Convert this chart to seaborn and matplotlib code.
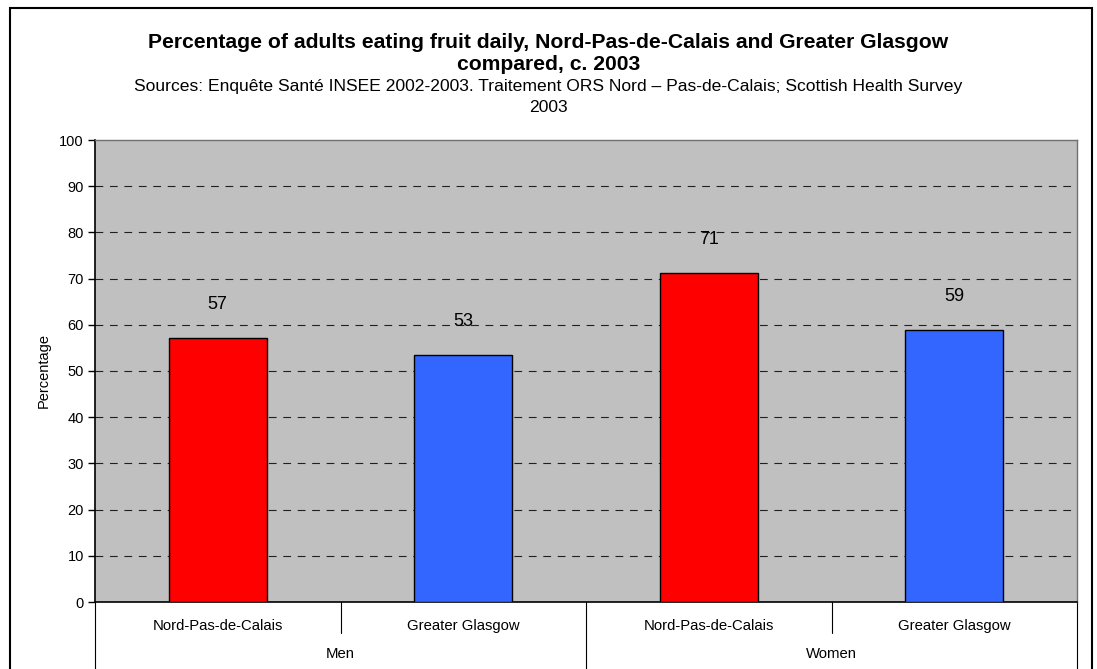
import seaborn as sns
import matplotlib.pyplot as plt
import matplotlib.transforms as mtransforms
import pandas as pd
import matplotlib
from matplotlib.patches import Rectangle
from matplotlib.lines import Line2D
matplotlib.use('Agg')

# data
groups = ['Men', 'Men', 'Women', 'Women']
regions = ['Nord-Pas-de-Calais', 'Greater Glasgow', 'Nord-Pas-de-Calais', 'Greater Glasgow']
values = [57.2, 53.4, 71.3, 58.8]
value_labels = ['57', '53', '71', '59']
yticks = [0, 10, 20, 30, 40, 50, 60, 70, 80, 90, 100]
palette = {'Nord-Pas-de-Calais': '#FF0000', 'Greater Glasgow': '#3366FF'}

df = pd.DataFrame({'group': groups, 'region': regions, 'value': values})
df['slot'] = [f'{g}|{r}' for g, r in zip(groups, regions)]

sns.set_style('white')
plt.rcParams['font.family'] = ['Liberation Sans', 'DejaVu Sans']
plt.rcParams['text.color'] = 'black'
plt.rcParams['xtick.color'] = 'black'
plt.rcParams['ytick.color'] = 'black'
plt.rcParams['axes.labelcolor'] = 'black'

fig = plt.figure(figsize=(10.97, 6.69), dpi=100)
ax = fig.add_axes([95 / 1097, 67 / 669, 982 / 1097, 462 / 669])
ax.set_facecolor('#C0C0C0')

sns.barplot(data=df, x='slot', y='value', hue='region', palette=palette,
            dodge=False, width=0.4, saturation=1, edgecolor='black', linewidth=1,
            legend=False, ax=ax, zorder=3)

# value labels (one container per hue level)
for cont in ax.containers:
    labs = []
    for bar in cont:
        i = int(round(bar.get_x() + bar.get_width() / 2))
        labs.append(value_labels[i])
    ax.bar_label(cont, labels=labs, padding=18, fontsize=13)

ax.set_ylim(0, 100)
ax.set_xlim(-0.5, 3.5)
ax.set_yticks(yticks)
ax.set_yticklabels([str(t) for t in yticks], fontsize=10.5)
ax.tick_params(axis='y', direction='out', length=5, width=1, left=True, pad=3)
for t in yticks[1:-1]:
    ax.axhline(t, color='#202020', linestyle=(0, (7, 6)), linewidth=0.8, zorder=1)

ax.set_ylabel('Percentage', fontsize=10.5)
ax.yaxis.set_label_coords(-0.045, 0.5)
ax.set_xlabel('')
ax.set_xticks(range(len(regions)))
ax.set_xticklabels(regions, fontsize=10.7)
ax.tick_params(axis='x', length=0, pad=12)

for side in ['left', 'bottom']:
    ax.spines[side].set_color('black')
    ax.spines[side].set_linewidth(1.2)
for side in ['top', 'right']:
    ax.spines[side].set_color('#707070')
    ax.spines[side].set_linewidth(1)

# multi-level category axis
trans = mtransforms.blended_transform_factory(ax.transData, ax.transAxes)
for x in [0.5, 2.5]:
    ax.add_line(Line2D([x, x], [0, -0.068], transform=trans, color='black', linewidth=0.8, clip_on=False))
for x in [-0.5, 1.5, 3.5]:
    ax.add_line(Line2D([x, x], [0, -0.2], transform=trans, color='black', linewidth=0.8, clip_on=False))
for g, x in [('Men', 0.5), ('Women', 2.5)]:
    ax.text(x, -0.112, g, transform=trans, ha='center', va='center', fontsize=10.7)

# titles
fig.text(0.5, 1 - 43 / 669, 'Percentage of adults eating fruit daily, Nord-Pas-de-Calais and Greater Glasgow',
         ha='center', va='center', fontsize=15.2, fontweight='bold')
fig.text(0.5, 1 - 65 / 669, 'compared, c. 2003', ha='center', va='center', fontsize=15.2, fontweight='bold')
fig.text(0.5, 1 - 87 / 669, 'Sources: Enquête Santé INSEE 2002-2003. Traitement ORS Nord \u2013 Pas-de-Calais; Scottish Health Survey',
         ha='center', va='center', fontsize=12.6)
fig.text(0.5, 1 - 108 / 669, '2003', ha='center', va='center', fontsize=12.6)

# chart border
fig.add_artist(Rectangle((10 / 1097, -0.1), 1082 / 1097, 1.1 - 8 / 669, transform=fig.transFigure,
                         fill=False, edgecolor='black', linewidth=1.5))

plt.savefig('out.png', dpi=100)
plt.close()
